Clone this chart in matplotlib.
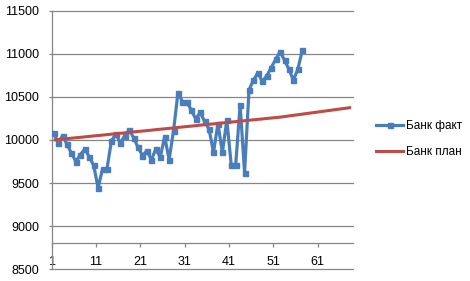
import matplotlib
matplotlib.use("Agg")
import matplotlib.pyplot as plt
from matplotlib.lines import Line2D

plt.rcParams['font.family'] = ['Liberation Sans', 'DejaVu Sans']

# --- data ---
fact_label = "Банк факт"
plan_label = "Банк план"

fact_values = [10080, 9970, 10050, 9950, 9845, 9750, 9830, 9895, 9805, 9705,
               9445, 9665, 9665, 9990, 10070, 9965, 10050, 10120, 10025, 9915,
               9820, 9875, 9770, 9895, 9800, 10040, 9770, 10110, 10550, 10445,
               10445, 10345, 10245, 10320, 10215, 10125, 9855, 10190, 9855, 10230,
               9710, 9710, 10410, 9620, 10580, 10695, 10780, 10680, 10745, 10840,
               10935, 11025, 10925, 10820, 10695, 10820, 11040]

plan_values = [10000, 10005, 10010, 10016, 10021, 10026, 10031, 10036, 10042, 10047,
               10052, 10057, 10062, 10068, 10073, 10078, 10083, 10088, 10094, 10099,
               10104, 10109, 10114, 10120, 10125, 10130, 10135, 10140, 10146, 10151,
               10156, 10161, 10166, 10172, 10177, 10182, 10187, 10192, 10198, 10203,
               10208, 10213, 10218, 10224, 10229, 10234, 10239, 10244, 10250, 10255,
               10260, 10265, 10272, 10279, 10286, 10293, 10300, 10307, 10314, 10321,
               10328, 10335, 10342, 10349, 10356, 10363, 10370, 10377]

x_tick_labels = ["1", "11", "21", "31", "41", "51", "61"]
y_ticks = [8500, 9000, 9500, 10000, 10500, 11000, 11500]

blue = "#4A7EBB"
red = "#BE4B48"
gray = "#868686"

fig = plt.figure(figsize=(4.70, 2.81), dpi=100)
ax = fig.add_axes([51.5 / 470, 1 - 269.3 / 281, (353.3 - 51.5) / 470, (269.3 - 10.7) / 281])

x_fact = list(range(1, len(fact_values) + 1))
x_plan = list(range(1, len(plan_values) + 1))

ax.plot(x_fact, fact_values, color=blue, lw=2.3, marker='s', ms=3.6,
        markeredgecolor=blue, markerfacecolor=blue, zorder=3, solid_joinstyle='round')
ax.plot(x_plan, plan_values, color=red, lw=2.2, zorder=4, solid_capstyle='butt')

ax.set_xlim(0.5, len(plan_values) + 0.5)
ax.set_ylim(8500, 11500)

ax.set_yticks(y_ticks)
ax.set_yticklabels([str(v) for v in y_ticks])
tick_pos = [0.5 + 10 * k for k in range(len(x_tick_labels))]
ax.set_xticks(tick_pos)
ax.set_xticklabels(x_tick_labels)

ax.yaxis.grid(True, color=gray, lw=0.9)
ax.set_axisbelow(True)
for gl in ax.get_ygridlines():
    gl.set_clip_on(False)

for s in ['top', 'right']:
    ax.spines[s].set_visible(False)
ax.spines['left'].set_color(gray)
ax.spines['left'].set_linewidth(0.9)
ax.spines['bottom'].set_position(('data', 8800))
ax.spines['bottom'].set_color(gray)
ax.spines['bottom'].set_linewidth(0.9)

ax.tick_params(axis='y', length=2.5, width=0.9, color=gray, pad=6.5, labelsize=9, labelcolor='black')
ax.tick_params(axis='x', length=3, width=0.9, color=gray, pad=6, labelsize=9, labelcolor='black')

handles = [Line2D([], [], color=blue, lw=2.3, marker='s', ms=3.6, markevery=[1]),
           Line2D([], [], color=red, lw=2.2)]
leg = fig.legend(handles, [fact_label, plan_label], loc='center left',
                 bbox_to_anchor=(376 / 470, 1 - 139 / 281), frameon=False,
                 fontsize=8.5, handlelength=2.3, handletextpad=0.2, labelspacing=1.2,
                 borderpad=0, borderaxespad=0)

fig.savefig("out.png", dpi=100)
